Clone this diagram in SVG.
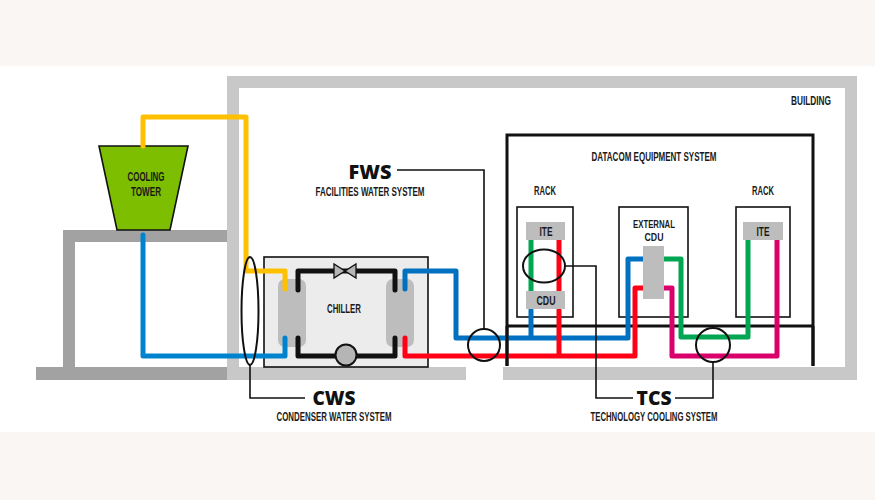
<svg xmlns="http://www.w3.org/2000/svg" width="875" height="500" viewBox="0 0 875 500">
<style>
.t{font-family:"Liberation Sans","Noto Sans",sans-serif;font-weight:700;font-size:12.5px;fill:#1a1a1a;text-anchor:middle}
.s{font-size:10px}
.b{font-family:"Open Sans","Noto Sans","Liberation Sans",sans-serif;font-weight:800;font-size:20px;fill:#111;text-anchor:middle}
.p{fill:none;stroke-width:5;stroke-linejoin:round;stroke-linecap:round}
.w{fill:#c8c8c8}
.d{fill:#a2a2a2}
.box{fill:#fff;stroke:#111;stroke-width:1.6}
.g{fill:#bdbdbd}
.l{fill:none;stroke:#111;stroke-width:1.6}
.o{fill:none;stroke:#111;stroke-width:2}
.k{fill:none;stroke:#111;stroke-width:3}
</style>
<rect width="875" height="500" fill="#f9f6f4"/>
<rect y="66" width="875" height="366" fill="#fff"/>
<g id="building">
<rect class="w" x="227" y="76" width="630" height="12"/>
<rect class="w" x="227" y="76" width="12" height="304"/>
<rect class="w" x="845" y="76" width="12" height="304"/>
<rect class="w" x="227" y="367" width="239" height="13"/>
<rect class="w" x="503" y="367" width="354" height="13"/>
<text class="t" x="811" y="105" textLength="40" lengthAdjust="spacingAndGlyphs">BUILDING</text>
</g>
<g id="stand">
<rect class="d" x="63" y="230" width="164" height="12"/>
<rect class="d" x="63" y="230" width="12" height="140"/>
<rect class="d" x="36" y="367" width="191" height="13"/>
</g>
<g id="cooling-tower">
<polygon points="99,146 188,146 170,230 117,230" fill="#7dbe00" stroke="#111" stroke-width="1.6"/>
<text class="t" x="146" y="181" textLength="37" lengthAdjust="spacingAndGlyphs">COOLING</text>
<text class="t" x="146" y="196" textLength="30" lengthAdjust="spacingAndGlyphs">TOWER</text>
</g>
<g id="datacom">
<rect class="box" x="517" y="207" width="56" height="110"/>
<rect class="box" x="619" y="207" width="69" height="110"/>
<rect class="box" x="736" y="207" width="54" height="110"/>
<path class="k" d="M507,366V135H813V366M507,326H813"/>
<text class="t" x="654" y="161" textLength="125" lengthAdjust="spacingAndGlyphs">DATACOM EQUIPMENT SYSTEM</text>
<text class="t" x="545" y="195" textLength="22" lengthAdjust="spacingAndGlyphs">RACK</text>
<text class="t" x="763" y="195" textLength="22" lengthAdjust="spacingAndGlyphs">RACK</text>
</g>
<g id="chiller">
<rect x="264" y="257" width="164" height="110" fill="#ececec" stroke="#111" stroke-width="1.6"/>
<rect class="g" x="278" y="279" width="28" height="68" rx="7"/>
<rect class="g" x="386" y="279" width="28" height="68" rx="7"/>
<text class="t" x="344" y="313" textLength="34" lengthAdjust="spacingAndGlyphs">CHILLER</text>
</g>
<g id="connectors">
<path class="p" stroke="#ffc000" d="M143,146V117H246V271H285V289"/>
<path class="p" stroke="#0083cf" d="M143,235V356H285V338"/>
<path class="p" stroke="#111" d="M298,290V271H395V290M298,338V356H395V338"/>
<path class="p" stroke="#0070c0" d="M405,289V271H456V338H628V259H643M531,310V338"/>
<path class="p" stroke="#ff0016" d="M405,338V356H635V288H643M559,310V356M559,240V291"/>
<path class="p" stroke="#00a651" d="M531,240V291M664,259H681V337H748V240"/>
<path class="p" stroke="#d9006c" d="M664,288H672V356H777V240"/>
</g>
<g id="valve"><polygon points="334,264 334,278 356,264 356,278" fill="#b5b5b5" stroke="#111" stroke-width="1.3"/></g>
<g id="pump"><circle cx="346" cy="355" r="10.5" fill="#b5b5b5" stroke="#111" stroke-width="2"/></g>
<g id="rack-1">
<rect class="g" x="526" y="222" width="39" height="18"/>
<rect class="g" x="526" y="291" width="39" height="18"/>
<text class="t" x="546" y="236" textLength="13" lengthAdjust="spacingAndGlyphs">ITE</text>
<text class="t" x="546" y="305" textLength="19" lengthAdjust="spacingAndGlyphs">CDU</text>
</g>
<g id="external-cdu">
<rect class="g" x="643" y="246" width="21" height="53"/>
<text class="t s" x="654" y="228" textLength="42" lengthAdjust="spacingAndGlyphs">EXTERNAL</text>
<text class="t s" x="654" y="241" textLength="19" lengthAdjust="spacingAndGlyphs">CDU</text>
</g>
<g id="rack-2">
<rect class="g" x="743" y="222" width="40" height="18"/>
<text class="t" x="763" y="236" textLength="13" lengthAdjust="spacingAndGlyphs">ITE</text>
</g>
<path class="k" d="M507,326V366M813,326V366"/>
<g id="cws">
<ellipse class="o" cx="250" cy="311" rx="8.5" ry="54"/>
<path class="l" d="M250,365V398H305"/>
<text class="b" x="334" y="405" textLength="43" lengthAdjust="spacingAndGlyphs">CWS</text>
<text class="t" x="334" y="421" textLength="115" lengthAdjust="spacingAndGlyphs">CONDENSER WATER SYSTEM</text>
</g>
<g id="fws">
<circle class="o" cx="484" cy="345" r="16"/>
<path class="l" d="M484,329V170H397"/>
<text class="b" x="370" y="179" textLength="43" lengthAdjust="spacingAndGlyphs">FWS</text>
<text class="t" x="370" y="196" textLength="109" lengthAdjust="spacingAndGlyphs">FACILITIES WATER SYSTEM</text>
</g>
<g id="tcs">
<ellipse class="o" cx="544" cy="266" rx="21" ry="16.5"/>
<circle class="o" cx="713" cy="345" r="17"/>
<path class="l" d="M565,266H596V398H633M713,362V398H675"/>
<text class="b" x="654" y="405" textLength="35" lengthAdjust="spacingAndGlyphs">TCS</text>
<text class="t" x="654" y="421" textLength="127" lengthAdjust="spacingAndGlyphs">TECHNOLOGY COOLING SYSTEM</text>
</g>
</svg>
